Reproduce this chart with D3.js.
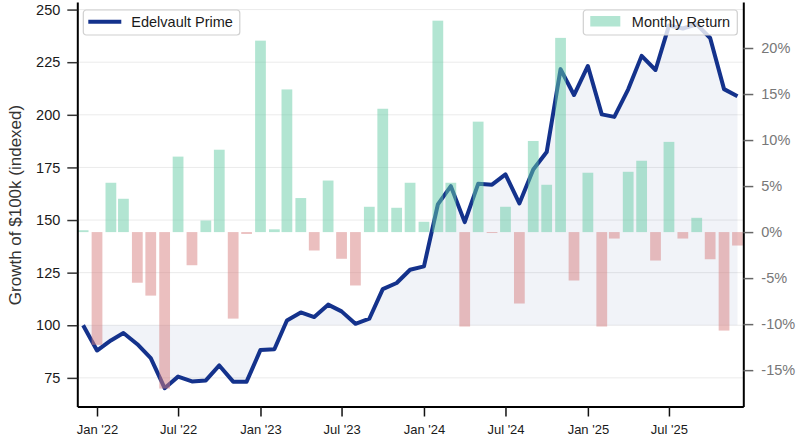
<!DOCTYPE html>
<meta charset="utf-8">

<!-- Load d3.js -->
<script src="https://d3js.org/d3.v7.min.js"></script>

<style>
  body { margin: 0; background: #fff; }
  text { font-family: "Liberation Sans", Arial, Helvetica, sans-serif; }
</style>

<div id="my_dataviz"></div>
<script>

// month of each observation
var months = [
  "2021-12",
  "2022-01", "2022-02", "2022-03", "2022-04", "2022-05", "2022-06", "2022-07", "2022-08", "2022-09", "2022-10", "2022-11", "2022-12",
  "2023-01", "2023-02", "2023-03", "2023-04", "2023-05", "2023-06", "2023-07", "2023-08", "2023-09", "2023-10", "2023-11", "2023-12",
  "2024-01", "2024-02", "2024-03", "2024-04", "2024-05", "2024-06", "2024-07", "2024-08", "2024-09", "2024-10", "2024-11", "2024-12",
  "2025-01", "2025-02", "2025-03", "2025-04", "2025-05", "2025-06", "2025-07", "2025-08", "2025-09", "2025-10", "2025-11", "2025-12"
]

// growth of $100k, indexed
var growth = [
  100,
  88.0, 92.8, 96.3, 91.0, 84.4, 70.1, 75.6, 73.3, 73.8, 80.9, 73.2, 73.2,
  88.3, 88.6, 102.3, 106.1, 103.9, 109.8, 106.6, 100.7, 103.1, 117.2, 120.1, 126.4,
  128.0, 157.4, 166.1, 149.0, 167.2, 166.8, 171.7, 157.9, 174.0, 182.3, 221.7, 209.4,
  223.2, 200.2, 199.0, 212.1, 228.0, 221.3, 242.4, 241.0, 243.0, 236.5, 212.2, 208.8
]

// monthly return in percent
var returns = [
  0.2,
  -12.25, 5.36, 3.62, -5.5, -6.9, -17.0, 8.2, -3.6, 1.26, 8.95, -9.4, -0.2,
  20.8, 0.3, 15.5, 3.7, -2.0, 5.6, -2.9, -5.8, 2.75, 13.4, 2.64, 5.36,
  1.12, 22.97, 5.36, -10.26, 12.0, -0.1, 2.75, -7.76, 9.9, 5.14, 21.1, -5.26,
  6.45, -10.26, -0.7, 6.55, 7.75, -3.09, 9.8, -0.7, 1.55, -2.95, -10.7, -1.46
]

var growthTicks = [75, 100, 125, 150, 175, 200, 225, 250]
var returnTicks = [-15, -10, -5, 0, 5, 10, 15, 20]

var seriesName = "Edelvault Prime"
var barName = "Monthly Return"

// dimensions
var width = 796,
    height = 441,
    margin = {top: 2, right: 52.7, bottom: 34.5, left: 77.3}

var innerW = width - margin.left - margin.right,
    innerH = height - margin.top - margin.bottom

var parseMonth = d3.timeParse("%Y-%m")
var data = months.map(function(m, i) {
  return {date: parseMonth(m), growth: growth[i], ret: returns[i]}
})

var svg = d3.select("#my_dataviz")
  .append("svg")
    .attr("width", width)
    .attr("height", height)
  .append("g")
    .attr("transform", "translate(" + margin.left + "," + margin.top + ")")

// scales
var x = d3.scaleTime()
  .domain([d3.timeDay.offset(data[0].date, -13), d3.timeDay.offset(data[data.length - 1].date, 13)])
  .range([0, innerW])

var y = d3.scaleLinear()
  .domain([61.4, 253.6])
  .range([innerH, 0])

var yr = d3.scaleLinear()
  .domain([-18.95, 25.0])
  .range([innerH, 0])

var navy = "#14328c"

// horizontal grid
svg.append("g")
  .selectAll("line")
  .data(growthTicks)
  .enter().append("line")
    .attr("x1", 0)
    .attr("x2", innerW)
    .attr("y1", function(d) { return y(d) })
    .attr("y2", function(d) { return y(d) })
    .attr("stroke", "#ebebeb")
    .attr("stroke-width", 1)

// shaded area between the line and 100
var area = d3.area()
  .x(function(d) { return x(d.date) })
  .y0(y(100))
  .y1(function(d) { return y(d.growth) })

svg.append("path")
  .datum(data)
  .attr("d", area)
  .attr("fill", navy)
  .attr("fill-opacity", 0.06)

// growth line
var line = d3.line()
  .x(function(d) { return x(d.date) })
  .y(function(d) { return y(d.growth) })

svg.append("path")
  .datum(data)
  .attr("d", line)
  .attr("fill", "none")
  .attr("stroke", navy)
  .attr("stroke-width", 4)
  .attr("stroke-linejoin", "round")
  .attr("stroke-linecap", "butt")

// monthly return bars
svg.append("g")
  .selectAll("rect")
  .data(data)
  .enter().append("rect")
    .attr("x", function(d) { return x(d3.timeDay.offset(d.date, -12)) })
    .attr("width", function(d) { return x(d3.timeDay.offset(d.date, 12)) - x(d3.timeDay.offset(d.date, -12)) })
    .attr("y", function(d) { return yr(Math.max(0, d.ret)) })
    .attr("height", function(d) { return Math.abs(yr(d.ret) - yr(0)) })
    .attr("fill", function(d) { return d.ret >= 0 ? "#66cba5" : "#d77f7f" })
    .attr("fill-opacity", 0.5)

// axes
var xAxis = svg.append("g")
  .attr("transform", "translate(0," + innerH + ")")
  .call(d3.axisBottom(x)
    .tickValues(d3.timeMonth.every(6).range(new Date(2022, 0, 1), new Date(2025, 11, 1)))
    .tickFormat(d3.timeFormat("%b '%y"))
    .tickSize(10)
    .tickPadding(8)
    .tickSizeOuter(0))

var yAxis = svg.append("g")
  .call(d3.axisLeft(y)
    .tickValues(growthTicks)
    .tickSize(10)
    .tickPadding(7)
    .tickSizeOuter(0))

var yrAxis = svg.append("g")
  .attr("transform", "translate(" + innerW + ",0)")
  .call(d3.axisRight(yr)
    .tickValues(returnTicks)
    .tickFormat(function(d) { return d + "%" })
    .tickSize(10)
    .tickPadding(8)
    .tickSizeOuter(0))

xAxis.selectAll("text").style("font-size", "13px").attr("fill", "#1a1a1a")
yAxis.selectAll("text").style("font-size", "14.5px").attr("fill", "#1a1a1a")
yrAxis.selectAll("text").style("font-size", "14.5px").attr("fill", "#777")

xAxis.selectAll(".tick line").attr("stroke", "#111").attr("stroke-width", 1.5)
yAxis.selectAll(".tick line").attr("stroke", "#333").attr("stroke-width", 1.5)
yrAxis.selectAll(".tick line").attr("stroke", "#666").attr("stroke-width", 1.5)
xAxis.select(".domain").attr("stroke", "#000").attr("stroke-width", 2)
yAxis.select(".domain").attr("stroke", "#000").attr("stroke-width", 2)
yrAxis.select(".domain").attr("stroke", "#000").attr("stroke-width", 2)

// y axis title
svg.append("text")
  .attr("transform", "translate(" + (20.5 - margin.left) + "," + (205 - margin.top) + ") rotate(-90)")
  .attr("text-anchor", "middle")
  .style("font-size", "17px")
  .attr("fill", "#333")
  .text("Growth of $100k (indexed)")

// legends
var leg1 = svg.append("g").attr("transform", "translate(" + 6 + "," + 8 + ")")
leg1.append("rect")
  .attr("width", 156.5).attr("height", 25).attr("rx", 3)
  .attr("fill", "#fff").attr("fill-opacity", 0.8)
  .attr("stroke", "#d0d0d0").attr("stroke-width", 1.2)
leg1.append("line")
  .attr("x1", 5).attr("x2", 38).attr("y1", 11.8).attr("y2", 11.8)
  .attr("stroke", navy).attr("stroke-width", 4)
leg1.append("text")
  .attr("x", 48).attr("y", 17)
  .style("font-size", "14.5px").attr("fill", "#1a1a1a")
  .text(seriesName)

var leg2 = svg.append("g").attr("transform", "translate(" + (innerW - 160) + "," + 8 + ")")
leg2.append("rect")
  .attr("width", 154).attr("height", 25).attr("rx", 3)
  .attr("fill", "#fff").attr("fill-opacity", 0.8)
  .attr("stroke", "#d0d0d0").attr("stroke-width", 1.2)
leg2.append("rect")
  .attr("x", 7).attr("y", 6).attr("width", 30).attr("height", 10.5)
  .attr("fill", "#66cba5").attr("fill-opacity", 0.5)
leg2.append("text")
  .attr("x", 48.5).attr("y", 17)
  .style("font-size", "14.5px").attr("fill", "#1a1a1a")
  .text(barName)

</script>
